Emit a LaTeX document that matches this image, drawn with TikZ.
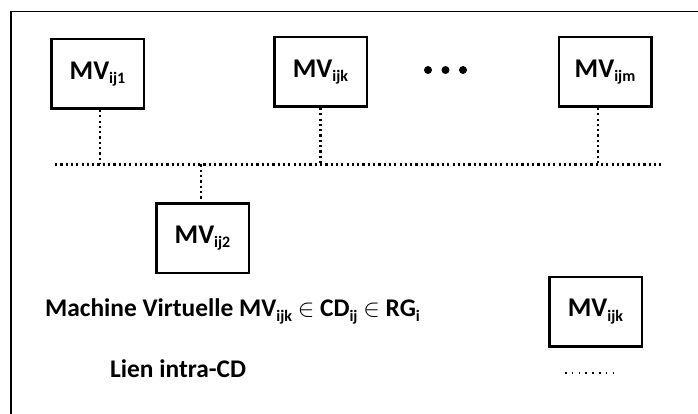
\documentclass[tikz,border=0pt]{standalone}
\usepackage{fontspec}
\setmainfont{Carlito}
\usetikzlibrary{positioning,calc}
\newcommand{\idx}[1]{\raisebox{-4.5pt}{\fontsize{16}{16}\selectfont #1}}
\tikzset{
    vm box/.style = {
        draw,
        line width = 2.5pt,
        fill = white,
        minimum width = 92.5pt,
        minimum height = 69.5pt,
        font = \fontsize{27}{27}\selectfont\bfseries,
        },
    intra link/.style = {
        line width = 2.2pt,
        dash pattern = on 2.2pt off 3.1pt,
        },
    legend text/.style = {
        anchor = base west,
        inner sep = 0pt,
        font = \fontsize{25.4}{25.4}\selectfont\bfseries,
        },
    dot/.style = {
        circle,
        fill,
        inner sep = 0pt,
        minimum size = 8pt,
        },
}
\begin{document}
\begin{tikzpicture}[x=1pt, y=-1pt]
            \useasboundingbox (0,0) rectangle (698,414);
            % frame
            \draw[line width=1.3pt] (11,414) -- (11,11.7) -- (698,11.7);
            \draw[line width=2pt] (11,414) -- (11,11.7);

            \node [vm box] (vm1) at (97.5,74) {MV\idx{ij1}};
            \node [vm box] (vmk) at (320.5,72) {MV\idx{ijk}};
            \node [vm box] (vmm) at (605,72) {MV\idx{ijm}};
            \node [vm box] (vm2) at (202.5,238) {MV\idx{ij2}};

            \foreach \i/\x in {1/428,2/445.5,3/463}
                \node [dot] (ell\i) at (\x,70) {};

            % bus
            \coordinate (busL) at (55,164.5);
            \coordinate (busR) at (662,164.5);
            \draw[intra link] (busL) -- (busR);
            \draw[intra link] ([xshift=2.5pt]vm1.south) -- ([xshift=2.5pt]vm1.south |- busL);
            \draw[intra link] (vmk.south) -- (vmk.south |- busL);
            \draw[intra link] ([xshift=-7pt]vmm.south) -- ([xshift=-7pt]vmm.south |- busL);
            \draw[intra link] ([xshift=-1.5pt]vm2.north |- busL) -- ([xshift=-1.5pt]vm2.north);

            % legend
            \node [legend text] (lgvm) at (45,316.7)
                {Machine Virtuelle MV\idx{ijk} $\in$ CD\idx{ij} $\in$ RG\idx{i}};
            \node [legend text] (lglink) at (110,377) {Lien intra-CD};
            \node [vm box] (vmlg) at (595.5,311.5) {MV\idx{ijk}};
            \coordinate (lkA) at (565,373);
            \coordinate (lkB) at (614,373);
            \draw[line width=1.6pt, dash pattern=on 1.6pt off 5.2pt] (lkA) -- (lkB);
\end{tikzpicture}
\end{document}
